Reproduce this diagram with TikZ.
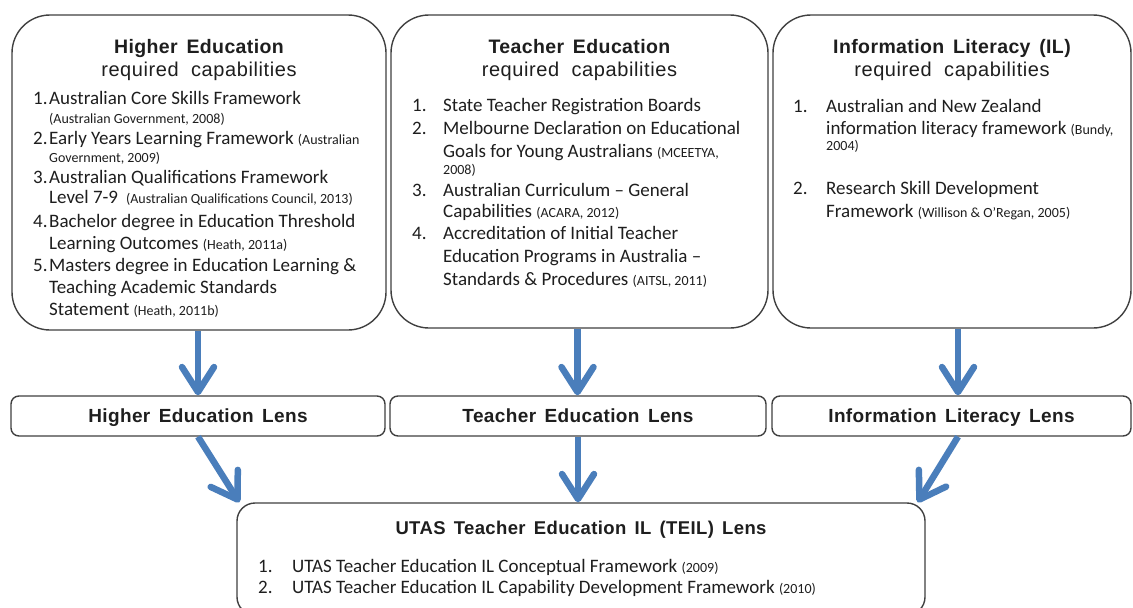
\documentclass[tikz,border=0pt]{standalone}
\usepackage{fontspec}
\setmainfont{Carlito}
\newfontfamily\hdfont[LetterSpace=2,WordSpace=2]{Liberation Sans}
\newfontfamily\subfont[LetterSpace=3,WordSpace=2]{Liberation Sans}
\newfontfamily\lensfont[LetterSpace=2,WordSpace=2]{Liberation Sans}
\newfontfamily\lowfont[LetterSpace=2,WordSpace=1.5]{Liberation Sans}
\usetikzlibrary{arrows.meta}
\definecolor{arrowblue}{HTML}{4A7EBB}
\definecolor{boxline}{HTML}{404040}
\definecolor{txt}{HTML}{1E1E1E}
\newcommand{\cit}[1]{{\fontsize{14}{16}\selectfont #1}}
\tikzset{
  bigbox/.style={draw=boxline, line width=1.4pt, rounded corners=38pt, inner sep=0pt},
  lensbox/.style={draw=boxline, line width=1.4pt, rounded corners=8pt, inner sep=0pt},
  lowbox/.style={draw=boxline, line width=1.4pt, rounded corners=18pt, inner sep=0pt},
  hd/.style={font=\hdfont\bfseries\fontsize{19.5}{21}\selectfont, text=txt, inner sep=0pt, anchor=base},
  sub/.style={font=\subfont\fontsize{20}{22}\selectfont, text=txt, inner sep=0pt, anchor=base},
  lens/.style={font=\lensfont\bfseries\fontsize{19}{21}\selectfont, text=txt, inner sep=0pt, anchor=base},
  low/.style={font=\lowfont\bfseries\fontsize{18.5}{21}\selectfont, text=txt, inner sep=0pt, anchor=base},
  ln/.style={font=\fontsize{19}{22}\selectfont, text=txt, inner sep=0pt, anchor=base west},
  cl/.style={font=\fontsize{14}{16}\selectfont, text=txt, inner sep=0pt, anchor=base west},
  flow/.style={draw=arrowblue, line width=6.5pt, -{Straight Barb[length=25pt, width=32pt, round]}}
}
\begin{document}
\begin{tikzpicture}[x=1pt,y=-1pt]
\useasboundingbox (0,0) rectangle (1133,608);
\clip (0,0) rectangle (1133,608);
\fill[white] (0,0) rectangle (1133,608);

% top boxes
\node[bigbox, minimum width=374pt, minimum height=315pt] (he) at (199,172.5) {};
\node[bigbox, minimum width=377pt, minimum height=313pt] (te) at (579.5,171.5) {};
\node[bigbox, minimum width=358pt, minimum height=313pt] (il) at (952,171.5) {};
% lens boxes
\node[lensbox, minimum width=374pt, minimum height=40pt] (hel) at (198,416) {};
\node[lensbox, minimum width=376pt, minimum height=40pt] (tel) at (578,416) {};
\node[lensbox, minimum width=359pt, minimum height=40pt] (ill) at (951.5,416) {};
% bottom box
\node[lowbox, minimum width=688pt, minimum height=112pt] (teil) at (581,559) {};

% titles
\node[hd] (heT) at (199,53) {Higher Education};
\node[sub] (heS) at (199,76) {required capabilities};
\node[hd] (teT) at (579.5,53) {Teacher Education};
\node[sub] (teS) at (579.5,76) {required capabilities};
\node[hd] (ilT) at (952,53) {Information Literacy (IL)};
\node[sub] (ilS) at (952,76) {required capabilities};

% box 1 list
\node[ln] (he1n) at (33,104) {1.};
\node[ln] (he1a) at (49,104) {Australian Core Skills Framework};
\node[cl] (he1b) at (49,123) {(Australian Government, 2008)};
\node[ln] (he2n) at (33,144) {2.};
\node[ln] (he2a) at (49,144) {Early Years Learning Framework \cit{(Australian}};
\node[cl] (he2b) at (49,162) {Government, 2009)};
\node[ln] (he3n) at (33,183) {3.};
\node[ln] (he3a) at (49,183) {Australian Qualifications Framework};
\node[ln] (he3b) at (49,203) {Level 7-9\hspace{8pt}\cit{(Australian Qualifications Council, 2013)}};
\node[ln] (he4n) at (33,227) {4.};
\node[ln] (he4a) at (49,227) {Bachelor degree in Education Threshold};
\node[ln] (he4b) at (49,249) {Learning Outcomes \cit{(Heath, 2011a)}};
\node[ln] (he5n) at (33,271) {5.};
\node[ln] (he5a) at (49,271) {Masters degree in Education Learning \&};
\node[ln] (he5b) at (49,293) {Teaching Academic Standards};
\node[ln] (he5c) at (49,315) {Statement \cit{(Heath, 2011b)}};

% box 2 list
\node[ln] (te1n) at (412,111) {1.};
\node[ln] (te1a) at (443,111) {State Teacher Registration Boards};
\node[ln] (te2n) at (412,134) {2.};
\node[ln] (te2a) at (443,134) {Melbourne Declaration on Educational};
\node[ln] (te2b) at (443,157) {Goals for Young Australians \cit{(MCEETYA,}};
\node[cl] (te2c) at (443,174) {2008)};
\node[ln] (te3n) at (412,196) {3.};
\node[ln] (te3a) at (443,196) {Australian Curriculum -- General};
\node[ln] (te3b) at (443,217) {Capabilities \cit{(ACARA, 2012)}};
\node[ln] (te4n) at (412,239) {4.};
\node[ln] (te4a) at (443,239) {Accreditation of Initial Teacher};
\node[ln] (te4b) at (443,262) {Education Programs in Australia --};
\node[ln] (te4c) at (443,285) {Standards \& Procedures \cit{(AITSL, 2011)}};

% box 3 list
\node[ln] (il1n) at (793,112) {1.};
\node[ln] (il1a) at (826,112) {Australian and New Zealand};
\node[ln] (il1b) at (826,134) {information literacy framework \cit{(Bundy,}};
\node[cl] (il1c) at (826,150) {2004)};
\node[ln] (il2n) at (793,194) {2.};
\node[ln] (il2a) at (826,194) {Research Skill Development};
\node[ln] (il2b) at (826,217) {Framework \cit{(Willison \& O'Regan, 2005)}};

% lens texts
\node[lens] (helT) at (198,422.5) {Higher Education Lens};
\node[lens] (telT) at (578,422.5) {Teacher Education Lens};
\node[lens] (illT) at (951.5,422.5) {Information Literacy Lens};

% bottom box texts
\node[low] (teilT) at (581,534) {UTAS Teacher Education IL (TEIL) Lens};
\node[ln] (teil1n) at (258,572) {1.};
\node[ln] (teil1a) at (292,572) {UTAS Teacher Education IL Conceptual Framework \cit{(2009)}};
\node[ln] (teil2n) at (258,593) {2.};
\node[ln] (teil2a) at (292,593) {UTAS Teacher Education IL Capability Development Framework \cit{(2010)}};

% arrows
\draw[flow] ([xshift=-1pt]he.south) -- ([xshift=-1pt]he.south |- hel.north);
\draw[flow] ([xshift=-2pt]te.south) -- ([xshift=-2pt]te.south |- tel.north);
\draw[flow] ([xshift=6pt]il.south) -- ([xshift=6pt]il.south |- ill.north);
\draw[flow] (hel.south) -- ([xshift=3pt]teil.north west);
\draw[flow] (tel.south) -- (tel.south |- teil.north);
\draw[flow] ([xshift=6.5pt]ill.south) -- ([xshift=-8pt]teil.north east);
\end{tikzpicture}
\end{document}
